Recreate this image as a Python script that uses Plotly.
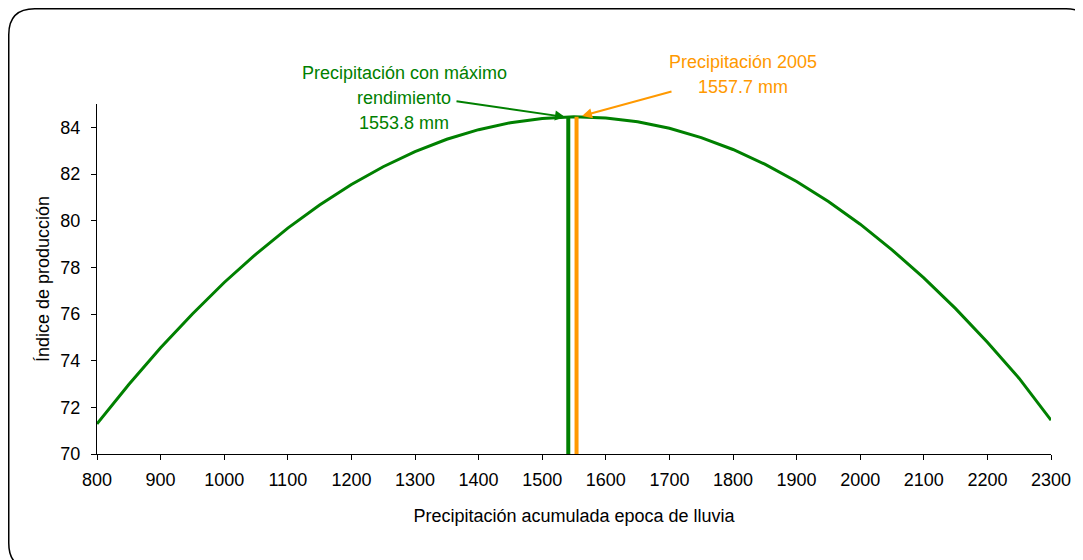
import plotly.graph_objects as go

# ---- data ----
precip = [800, 850, 900, 950, 1000, 1050, 1100, 1150, 1200, 1250, 1300, 1350, 1400, 1450,
          1500, 1550, 1600, 1650, 1700, 1750, 1800, 1850, 1900, 1950, 2000, 2050, 2100,
          2150, 2200, 2250, 2300]
indice = [71.29, 72.98, 74.55, 76.00, 77.35, 78.57, 79.68, 80.67, 81.55, 82.31, 82.96,
          83.49, 83.90, 84.20, 84.38, 84.45, 84.40, 84.24, 83.96, 83.56, 83.05, 82.42,
          81.68, 80.82, 79.85, 78.75, 77.55, 76.23, 74.79, 73.24, 71.45]
x_ticks = [800, 900, 1000, 1100, 1200, 1300, 1400, 1500, 1600, 1700, 1800, 1900, 2000,
           2100, 2200, 2300]
y_ticks = [70, 72, 74, 76, 78, 80, 82, 84]
max_line_x = 1541      # drawn position of "máximo rendimiento" bar
max_line_top = 84.44
y2005_line_x = 1554    # drawn position of 2005 bar
y2005_line_top = 84.45
label_max = ["Precipitación con máximo", "rendimiento", "1553.8 mm"]
label_2005 = ["Precipitación 2005", "1557.7 mm"]

GREEN = "#008000"
ORANGE = "#FF9900"
FONT = "Liberation Sans, Arial, sans-serif"
FS = 18

# page is offset by the 8px body margin; work in page pixels, convert to figure pixels
OFF = 8
W, H = 1083 - OFF, 560 - OFF
L, R, T, B = 97 - OFF, 1051 - OFF, 104 - OFF, 454 - OFF  # plot area (figure px)

fig = go.Figure()
fig.add_trace(go.Scatter(x=precip, y=indice, mode="lines",
                         line=dict(color=GREEN, width=3), showlegend=False))
fig.add_trace(go.Scatter(x=[max_line_x, max_line_x], y=[70, max_line_top], mode="lines",
                         line=dict(color=GREEN, width=4), showlegend=False))
fig.add_trace(go.Scatter(x=[y2005_line_x, y2005_line_x], y=[70, y2005_line_top], mode="lines",
                         line=dict(color=ORANGE, width=4), showlegend=False))


def pxp(page_px):
    return (page_px - OFF - L) / (R - L)


def pyp(page_py):
    return (B - (page_py - OFF)) / (B - T)


annotations = []
for i, txt in enumerate(label_max):
    annotations.append(dict(x=pxp(404), y=pyp(73 + 25 * i), xref="paper", yref="paper",
                            text=txt, showarrow=False, xanchor="center", yanchor="middle",
                            font=dict(family=FONT, size=FS, color=GREEN)))
for i, txt in enumerate(label_2005):
    annotations.append(dict(x=pxp(743), y=pyp(62 + 25 * i), xref="paper", yref="paper",
                            text=txt, showarrow=False, xanchor="center", yanchor="middle",
                            font=dict(family=FONT, size=FS, color=ORANGE)))
annotations.append(dict(x=pxp(565), y=pyp(117), xref="paper", yref="paper", text="",
                        showarrow=True, ax=-110, ay=-16, arrowhead=2, arrowsize=1,
                        arrowwidth=2, arrowcolor=GREEN))
annotations.append(dict(x=pxp(582), y=pyp(116), xref="paper", yref="paper", text="",
                        showarrow=True, ax=91, ay=-25, arrowhead=2, arrowsize=1,
                        arrowwidth=2, arrowcolor=ORANGE))

# rounded outer border (page px)
bl, bt, br, bb, rad = 8.75, 8.75, 1092, 569, 26
path = (f"M {pxp(bl+rad)},{pyp(bt)} L {pxp(br-rad)},{pyp(bt)} "
        f"Q {pxp(br)},{pyp(bt)} {pxp(br)},{pyp(bt+rad)} L {pxp(br)},{pyp(bb-rad)} "
        f"Q {pxp(br)},{pyp(bb)} {pxp(br-rad)},{pyp(bb)} L {pxp(bl+rad)},{pyp(bb)} "
        f"Q {pxp(bl)},{pyp(bb)} {pxp(bl)},{pyp(bb-rad)} L {pxp(bl)},{pyp(bt+rad)} "
        f"Q {pxp(bl)},{pyp(bt)} {pxp(bl+rad)},{pyp(bt)} Z")
shapes = [dict(type="path", path=path, xref="paper", yref="paper",
               line=dict(color="black", width=1.5), layer="below")]

fig.update_layout(
    width=W, height=H,
    margin=dict(l=L, r=W - R, t=T, b=H - B, autoexpand=False),
    paper_bgcolor="white", plot_bgcolor="white",
    font=dict(family=FONT, size=FS, color="black"),
    annotations=annotations, shapes=shapes,
    xaxis=dict(range=[800, 2300], tickvals=x_ticks, ticktext=[str(v) for v in x_ticks],
               showgrid=False, zeroline=False, showline=True, linecolor="black",
               linewidth=1, ticks="outside", ticklen=5, tickcolor="black",
               tickfont=dict(size=FS), ticklabelstandoff=4,
               title=dict(text="Precipitación acumulada epoca de lluvia",
                          font=dict(size=FS), standoff=20)),
    yaxis=dict(range=[70, 85], tickvals=y_ticks, ticktext=[str(v) for v in y_ticks],
               showgrid=False, zeroline=False, showline=True, linecolor="black",
               linewidth=1, ticks="outside", ticklen=5, tickcolor="black",
               tickfont=dict(size=FS), ticklabelstandoff=7,
               title=dict(text="Índice de producción", font=dict(size=FS), standoff=6)),
)

fig.write_html("out.html")
